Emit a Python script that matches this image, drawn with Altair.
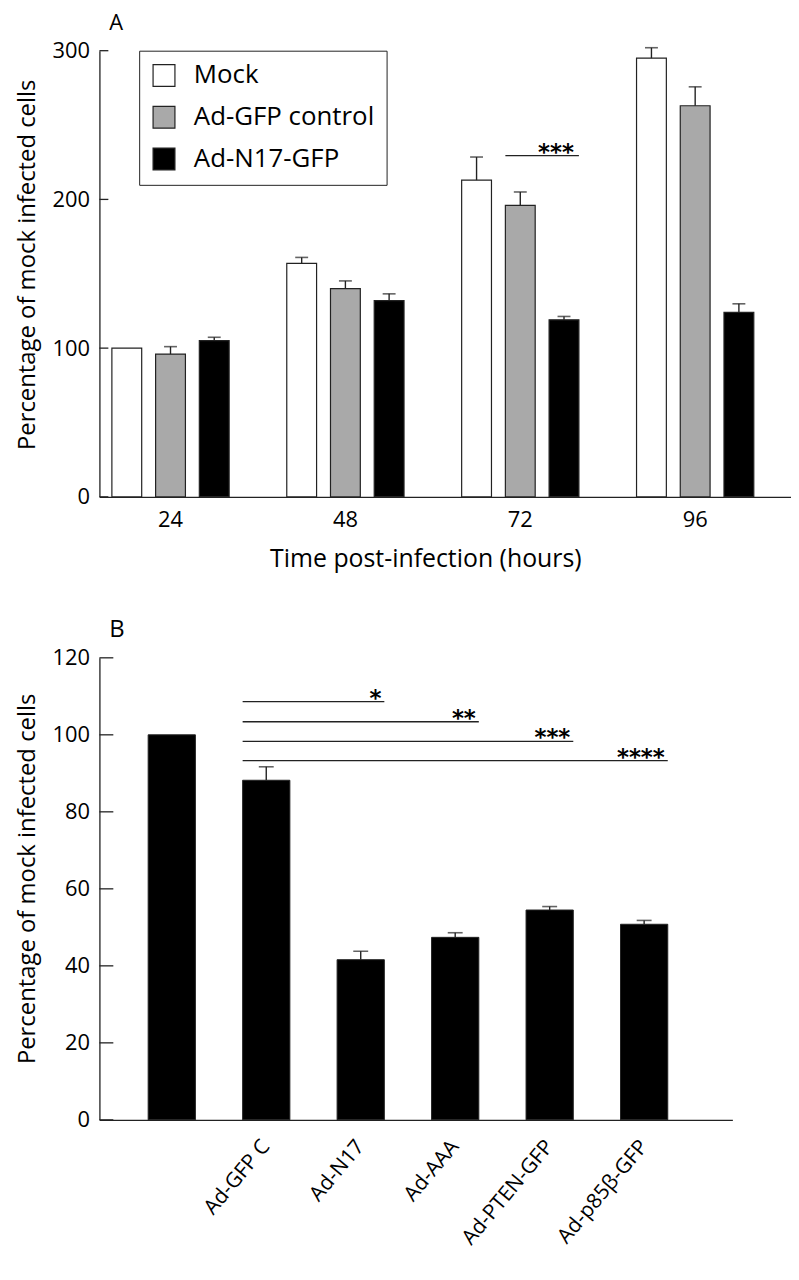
import altair as alt
import pandas as pd

FONT = "Open Sans"
INK = "#222222"

# ---------------- Panel A data ----------------
times = ["24", "48", "72", "96"]
series = ["Mock", "Ad-GFP control", "Ad-N17-GFP"]
mock_vals = [100, 157, 213, 295]
gfp_vals = [96, 140, 196, 263]
n17_vals = [105, 132, 119, 124]
mock_err = [0, 4, 15.5, 7]
gfp_err = [5, 5.2, 9, 12.7]
n17_err = [2.3, 4.5, 2.3, 5.8]
series_colors = ["#ffffff", "#a9a9a9", "#000000"]
a_ticks = [0, 100, 200, 300]
a_sig_start = ["72|Ad-GFP control"]
a_sig_end = ["72|Ad-N17-GFP"]
a_sig_y = [229.4]
a_sig_lab = ["***"]

# ---------------- Panel B data ----------------
b_groups = [" ", "Ad-GFP C", "Ad-N17", "Ad-AAA", "Ad-PTEN-GFP", "Ad-p85β-GFP"]
b_vals = [100, 88.2, 41.6, 47.4, 54.5, 50.8]
b_err = [0, 3.5, 2.2, 1.2, 0.9, 1.0]
b_ticks = [0, 20, 40, 60, 80, 100, 120]
b_sig_start = ["Ad-GFP C", "Ad-GFP C", "Ad-GFP C", "Ad-GFP C"]
b_sig_end = ["Ad-N17", "Ad-AAA", "Ad-PTEN-GFP", "Ad-p85β-GFP"]
b_sig_y = [108.6, 103.4, 98.3, 93.3]
b_sig_lab = ["*", "**", "***", "****"]

A_XTITLE = "Time post-infection (hours)"
YTITLE = "Percentage of mock infected cells"

# ---------------- build tables ----------------
slots = []
for i, t in enumerate(times):
    for s in series:
        slots.append(f"{t}|{s}")
    if i < len(times) - 1:
        slots.append(f"{t}|gap")

rowsA = []
for vals, errs, s in [(mock_vals, mock_err, series[0]), (gfp_vals, gfp_err, series[1]), (n17_vals, n17_err, series[2])]:
    for t, v, e in zip(times, vals, errs):
        rowsA.append({"slot": f"{t}|{s}", "series": s, "value": v, "err": e, "top": v + e})
dfA = pd.DataFrame(rowsA)
dfAticks = pd.DataFrame({"v": a_ticks})
dfAsig = pd.DataFrame({"start": a_sig_start, "end": a_sig_end, "y": a_sig_y, "label": a_sig_lab})

dfB = pd.DataFrame({"grp": b_groups, "value": b_vals, "err": b_err})
dfB["top"] = dfB["value"] + dfB["err"]
dfBticks = pd.DataFrame({"v": b_ticks})
dfBsig = pd.DataFrame({"start": b_sig_start, "end": b_sig_end, "y": b_sig_y, "label": b_sig_lab})

# ---------------- Panel A ----------------
WA, HA = 696, 449
xscaleA = alt.Scale(domain=slots, paddingInner=0.318, paddingOuter=0.568, align=0.251)
yscaleA = alt.Scale(domain=[0, 300], nice=False, zero=True)

axXA = alt.Axis(
    labelExpr="indexof(datum.value, 'GFP control') >= 0 ? split(datum.value, '|')[0] : ''",
    labelAngle=0, ticks=False, grid=False, labelOverlap=False,
    domainColor=INK, domainWidth=1.3, labelFontSize=22, labelPadding=13,
    labelColor="black", titleColor="black", titleFontSize=25, titleFontWeight="normal",
    titleX=328, titleY=70, titleBaseline="alphabetic", titleAlign="center",
)
axYA = alt.Axis(
    values=a_ticks, ticks=False, grid=False, domainColor=INK, domainWidth=1.3,
    labelFontSize=22, labelPadding=10, labelColor="black",
    titleFontSize=24, titleFontWeight="normal",
    titleColor="black", titleAngle=270, titleX=-65, titleY=215,
    titleBaseline="alphabetic", titleAlign="center",
)

def xa(field, **kw):
    return alt.X(field, title=A_XTITLE, **kw)

def ya(field, **kw):
    return alt.Y(field, title=YTITLE, **kw)

barsA = alt.Chart(dfA).mark_bar(stroke=INK, strokeWidth=1.2).encode(
    x=xa("slot:N", scale=xscaleA, axis=axXA),
    y=ya("value:Q", scale=yscaleA, axis=axYA),
    color=alt.Color(
        "series:N",
        scale=alt.Scale(domain=series, range=series_colors),
        legend=alt.Legend(
            title=None, orient="none", legendX=40, legendY=0, direction="vertical",
            symbolType="square", symbolSize=484, symbolStrokeColor=INK, symbolStrokeWidth=1.2,
            symbolOpacity=1, labelFontSize=26, labelOffset=17, rowPadding=14, padding=12,
            strokeColor=INK, labelColor="black", labelLimit=400,
        ),
    ),
)
errA = alt.Chart(dfA).transform_filter("datum.err > 0").mark_rule(color=INK, strokeWidth=1.4).encode(
    x=xa("slot:N"), y=ya("value:Q"), y2="top:Q"
)
capA = alt.Chart(dfA).transform_filter("datum.err > 0").mark_tick(color=INK, thickness=1.6, size=13).encode(
    x=xa("slot:N"), y=ya("top:Q")
)
ticksA = alt.Chart(dfAticks).mark_rule(color=INK, strokeWidth=1.3).encode(
    x=alt.value(0), x2=alt.value(9), y=ya("v:Q")
)
sigA = alt.Chart(dfAsig).mark_rule(color=INK, strokeWidth=1.3).encode(
    x=xa("start:N", bandPosition=0),
    x2=alt.X2("end:N", bandPosition=1),
    y=ya("y:Q"),
)
starA = alt.Chart(dfAsig).mark_text(align="right", baseline="alphabetic", fontSize=23, dx=-5, dy=4, font="DejaVu Sans", fontWeight="bold", color="black").encode(
    x=xa("end:N", bandPosition=1), y=ya("y:Q"), text="label:N"
)

panelA = alt.layer(barsA, errA, capA, ticksA, sigA, starA).properties(
    width=WA, height=HA,
    title=alt.TitleParams("A", anchor="start", frame="group", dx=10, fontSize=22,
                          fontWeight="normal", baseline="alphabetic", offset=-12, color="black"),
)

# ---------------- Panel B ----------------
WB, HB = 637, 465
xscaleB = alt.Scale(domain=b_groups, paddingInner=0.5, paddingOuter=0.6, align=0.43)
yscaleB = alt.Scale(domain=[0, 120], nice=False, zero=True)

axXB = alt.Axis(
    labelAngle=310, labelAlign="right", labelBaseline="middle",
    labelPadding=23, ticks=False, grid=False, labelOverlap=False, labelLimit=400,
    domainColor=INK, domainWidth=1.3, labelFontSize=21, labelColor="black",
)
axYB = alt.Axis(
    values=b_ticks, ticks=False, grid=False, domainColor=INK, domainWidth=1.3,
    labelFontSize=22, labelPadding=10, labelColor="black",
    titleFontSize=24, titleFontWeight="normal",
    titleColor="black", titleAngle=270, titleX=-65, titleY=222,
    titleBaseline="alphabetic", titleAlign="center",
)

def xb(field, **kw):
    return alt.X(field, title=None, **kw)

def yb(field, **kw):
    return alt.Y(field, title=YTITLE, **kw)

barsB = alt.Chart(dfB).mark_bar(color="black", stroke=INK, strokeWidth=1.0).encode(
    x=xb("grp:N", scale=xscaleB, axis=axXB),
    y=yb("value:Q", scale=yscaleB, axis=axYB),
)
errB = alt.Chart(dfB).transform_filter("datum.err > 0").mark_rule(color=INK, strokeWidth=1.4).encode(
    x=xb("grp:N"), y=yb("value:Q"), y2="top:Q"
)
capB = alt.Chart(dfB).transform_filter("datum.err > 0").mark_tick(color=INK, thickness=1.6, size=15).encode(
    x=xb("grp:N"), y=yb("top:Q")
)
ticksB = alt.Chart(dfBticks).mark_rule(color=INK, strokeWidth=1.3).encode(
    x=alt.value(0), x2=alt.value(14), y=yb("v:Q")
)
sigB = alt.Chart(dfBsig).mark_rule(color=INK, strokeWidth=1.3).encode(
    x=xb("start:N", bandPosition=0),
    x2=alt.X2("end:N", bandPosition=1),
    y=yb("y:Q"),
)
starB = alt.Chart(dfBsig).mark_text(align="right", baseline="alphabetic", fontSize=23, dx=-3, dy=4, font="DejaVu Sans", fontWeight="bold", color="black").encode(
    x=xb("end:N", bandPosition=1), y=yb("y:Q"), text="label:N"
)

panelB = alt.layer(barsB, errB, capB, ticksB, sigB, starB).properties(
    width=WB, height=HB,
    title=alt.TitleParams("B", anchor="start", frame="group", dx=10, fontSize=24,
                          fontWeight="normal", baseline="alphabetic", offset=-14, color="black"),
)

chart = alt.vconcat(panelA, panelB, spacing=47).properties(
    padding={"left": 7, "top": 0, "right": 0, "bottom": -2},
    background="white",
).configure(font=FONT).configure_view(stroke=None)

chart.save("out.html", embed_options={"renderer": "svg", "actions": False})
